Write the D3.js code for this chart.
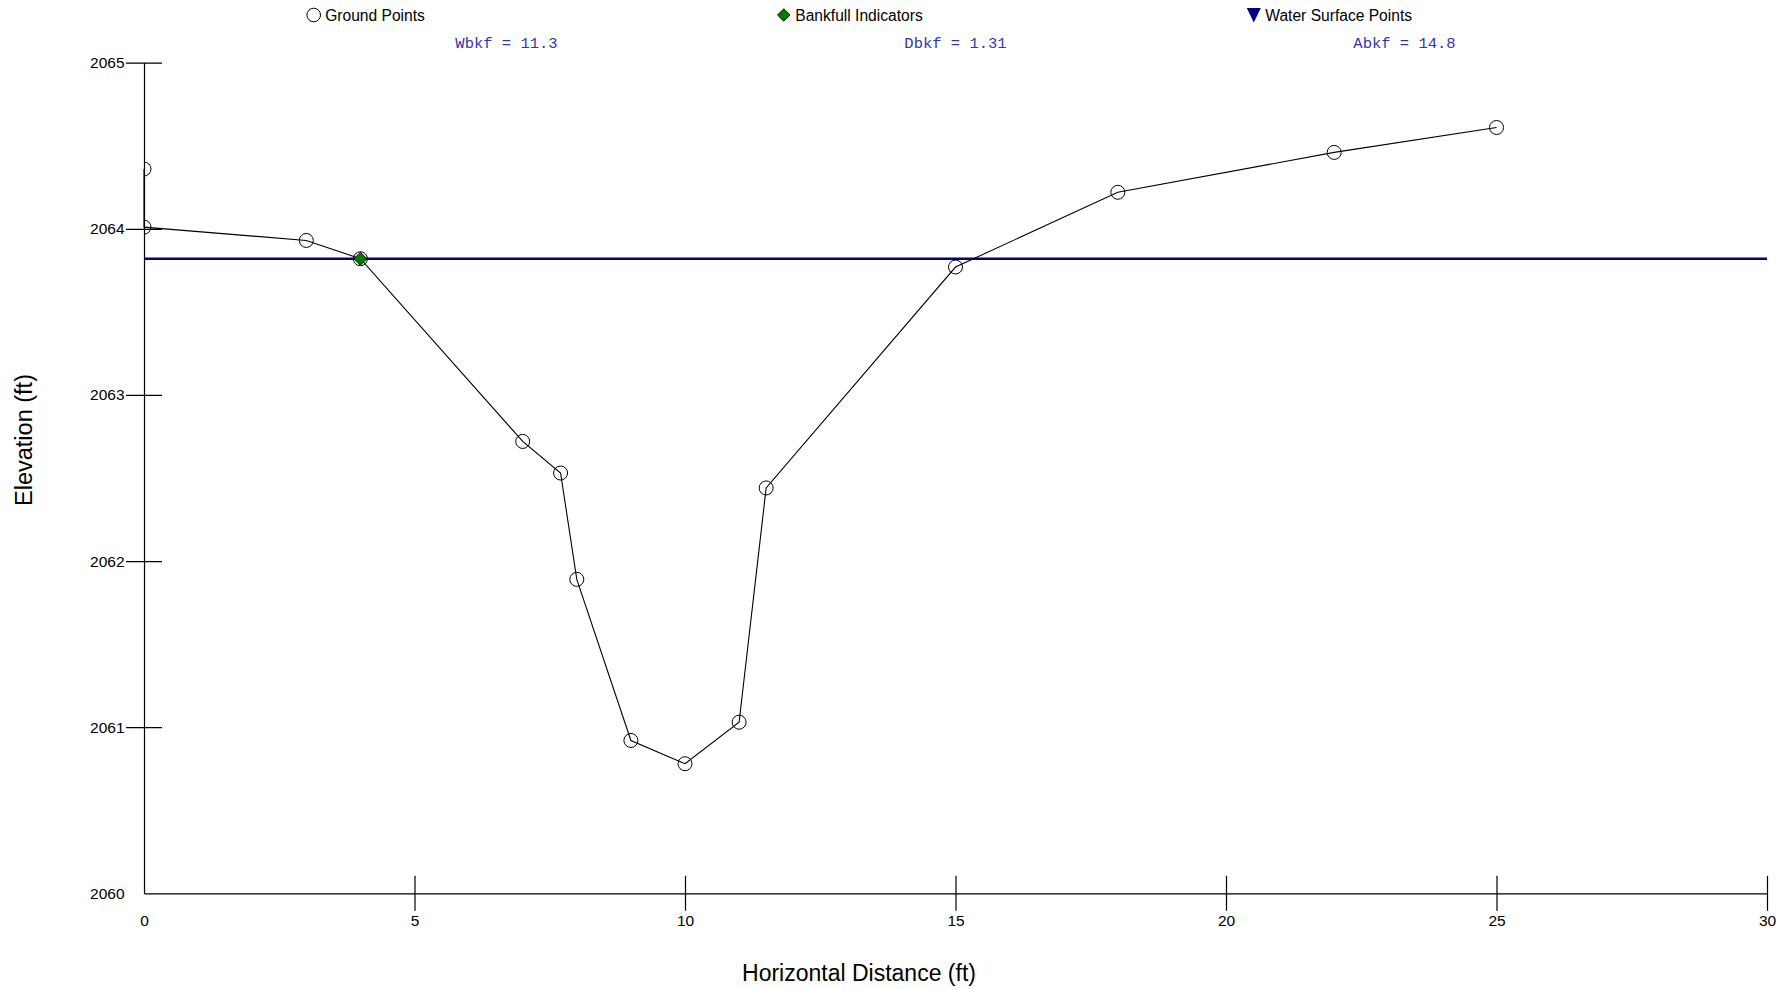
<!DOCTYPE html>
<html>
<head>
<meta charset="utf-8">
<script src="https://cdn.jsdelivr.net/npm/d3@7"></script>
<style>
  html, body { margin: 0; padding: 0; background: #fff; }
  svg { display: block; }
  text { font-family: "Liberation Sans", Arial, sans-serif; }
  text.mono { font-family: "Liberation Mono", "Courier New", monospace; }
</style>
</head>
<body>
<svg id="chart" width="1789" height="990"></svg>
<script>
// ---- data ----
const stations   = [0, 0, 3, 4, 7, 7.7, 8, 9, 10, 11, 11.5, 15, 18, 22, 25];
const elevations = [2064.36, 2064.01, 2063.93, 2063.82, 2062.72, 2062.53, 2061.89, 2060.92, 2060.78, 2061.03, 2062.44, 2063.77, 2064.22, 2064.46, 2064.61];
const bankfullStations   = [4];
const bankfullElevations = [2063.82];
const waterStations   = [0, 30];
const waterElevations = [2063.82, 2063.82];
const xTicks = [0, 5, 10, 15, 20, 25, 30];
const yTicks = [2060, 2061, 2062, 2063, 2064, 2065];
const legendLabels = ["Ground Points", "Bankfull Indicators", "Water Surface Points"];
const statLabels = ["Wbkf = 11.3", "Dbkf = 1.31", "Abkf = 14.8"];
const xTitle = "Horizontal Distance (ft)";
const yTitle = "Elevation (ft)";

// ---- layout ----
const svg = d3.select("#chart");
const x = d3.scaleLinear().domain([0, 30]).range([144, 1767]);
const y = d3.scaleLinear().domain([2060, 2065]).range([893.3, 62.7]);

svg.append("defs").append("clipPath").attr("id", "plotclip")
  .append("rect").attr("x", 144).attr("y", 0).attr("width", 1789 - 144).attr("height", 990);

// y axis
const yAxis = svg.append("g").attr("transform", `translate(${x(0)},0)`)
  .call(d3.axisLeft(y).tickValues(yTicks).tickSizeOuter(0).tickSizeInner(18).tickPadding(1.5).tickFormat(d3.format("d")));
yAxis.select(".domain").attr("stroke", "#000").attr("stroke-width", 1.2);
yAxis.selectAll(".tick line").attr("x1", -18).attr("x2", 18).attr("stroke", "#000").attr("stroke-width", 1.2)
  .filter(d => d === 2060).remove();
yAxis.selectAll(".tick text").attr("font-size", 15.5).attr("fill", "#000");

// x axis
const xAxis = svg.append("g").attr("transform", `translate(0,${y(2060)})`)
  .call(d3.axisBottom(x).tickValues(xTicks).tickSizeOuter(0).tickSizeInner(18).tickFormat(d3.format("d")));
xAxis.select(".domain").attr("stroke", "#000").attr("stroke-width", 1.2);
xAxis.selectAll(".tick line").attr("y1", -17.5).attr("y2", 17.5).attr("stroke", "#000").attr("stroke-width", 1.2)
  .filter(d => d === 0).remove();
xAxis.selectAll(".tick text").attr("font-size", 15.5)
  .attr("fill", "#000").attr("dy", null).attr("y", 33);

// axis titles
svg.append("text").attr("x", 859).attr("y", 981).attr("text-anchor", "middle")
  .attr("font-size", 23).text(xTitle);
svg.append("text").attr("transform", "translate(32,440) rotate(-90)").attr("text-anchor", "middle")
  .attr("font-size", 23.5).text(yTitle);

// water surface line
svg.append("line")
  .attr("x1", x(waterStations[0])).attr("x2", x(waterStations[1]))
  .attr("y1", y(waterElevations[0])).attr("y2", y(waterElevations[1]))
  .attr("stroke", "#000080").attr("stroke-width", 2.4);

// ground line
const plot = svg.append("g").attr("clip-path", "url(#plotclip)");
const ground = stations.map((s, i) => [s, elevations[i]]);
svg.append("path").datum(ground)
  .attr("d", d3.line().x(d => x(d[0])).y(d => y(d[1])))
  .attr("fill", "none").attr("stroke", "#000").attr("stroke-width", 1.1);

// bankfull diamond
svg.selectAll(".bkf").data(bankfullStations.map((s, i) => [s, bankfullElevations[i]])).join("path")
  .attr("d", d3.symbol().type(d3.symbolSquare).size(85))
  .attr("transform", d => `translate(${x(d[0])},${y(d[1])}) rotate(45)`)
  .attr("fill", "#007a00").attr("stroke", "#000").attr("stroke-width", 0.8);

// ground points
plot.selectAll(".gp").data(ground).join("circle")
  .attr("cx", d => x(d[0])).attr("cy", d => y(d[1])).attr("r", 7)
  .attr("fill", "none").attr("stroke", "#000").attr("stroke-width", 1);

// legend
const legY = 15;
const legX = [313.7, 783.8, 1253.8];
svg.append("circle").attr("cx", legX[0]).attr("cy", legY).attr("r", 6.8)
  .attr("fill", "#fff").attr("stroke", "#000").attr("stroke-width", 1);
svg.append("path").attr("d", d3.symbol().type(d3.symbolSquare).size(80)())
  .attr("transform", `translate(${legX[1]},${legY}) rotate(45)`)
  .attr("fill", "#007a00").attr("stroke", "#000").attr("stroke-width", 0.8);
svg.append("path").attr("d", `M${legX[2]-7},${legY-7} L${legX[2]+7},${legY-7} L${legX[2]},${legY+7.5} Z`)
  .attr("fill", "#000080");
legendLabels.forEach((t, i) => {
  svg.append("text").attr("x", legX[i] + 11.5).attr("y", legY + 6).attr("font-size", 15.6).attr("fill", "#000").text(t);
});

// stats
const statX = [506.5, 955.5, 1404.5];
statLabels.forEach((t, i) => {
  svg.append("text").attr("class", "mono").attr("x", statX[i]).attr("y", 48).attr("text-anchor", "middle")
    .attr("font-size", 15.5)
    .attr("fill", "#3535a8").attr("xml:space", "preserve").text(t);
});
</script>
</body>
</html>
